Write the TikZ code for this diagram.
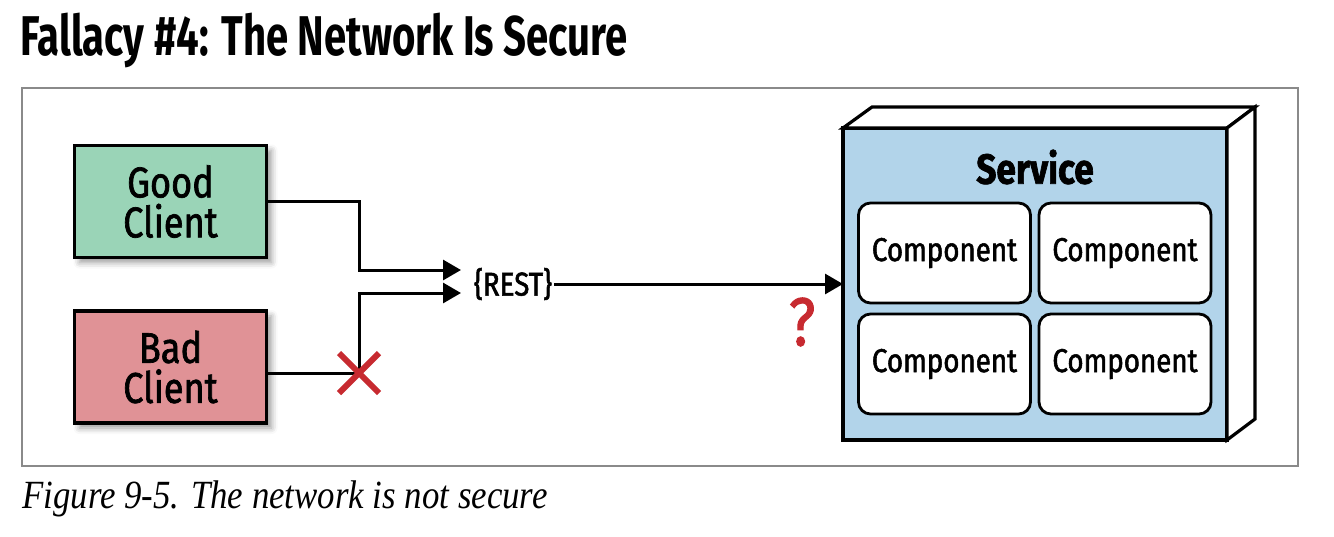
\documentclass[tikz,border=0pt]{standalone}
\usepackage{fontspec}
\newfontfamily\labelfont{Fira Sans}[FakeStretch=0.84, FakeBold=1.6]
\newfontfamily\headfont{Fira Sans}[FakeStretch=0.716]
\newfontfamily\capfont{Liberation Serif}[FakeStretch=0.87]
\usetikzlibrary{positioning,arrows.meta,shapes.misc,shadows.blur}

\definecolor{goodgreen}{HTML}{9AD4B7}
\definecolor{badred}{HTML}{E09296}
\definecolor{svcblue}{HTML}{B2D4EA}
\definecolor{warnred}{HTML}{C72A30}
\definecolor{framegray}{HTML}{8A8A8A}

\tikzset{
	client/.style={draw=black, line width=1.6pt, minimum width=96pt, minimum height=56pt, align=center,
		font=\labelfont\fontsize{21.5}{20}\selectfont,
		blur shadow={shadow xshift=2.5pt, shadow yshift=-2.5pt, shadow blur radius=3pt}},
	comp/.style={draw=black, fill=white, line width=1.4pt, rounded corners=6pt, minimum width=86pt, minimum height=50pt,
		font=\labelfont\fontsize{16.5}{18}\selectfont},
	conn/.style={draw=black, line width=1.5pt},
	flow/.style={-{Triangle[length=9pt,width=10pt]}},
	face/.style={draw=black, fill=white, line width=1.6pt, line join=miter},
}

\begin{document}
\begin{tikzpicture}[x=0.5pt,y=-0.5pt]
		\useasboundingbox (0,0) rectangle (1334,536);
		\draw[framegray, line width=0.75pt] (22,88) rectangle (1298,466);
		% title and caption
		\node[anchor=base west, inner sep=0pt, font=\headfont\bfseries\fontsize{28}{30}\selectfont] (title) at (20,55) {Fallacy \#4: The Network Is Secure};
		\node[anchor=base west, inner sep=0pt, font=\capfont\itshape\fontsize{20}{22}\selectfont] (caption) at (22,508) {Figure 9-5. The network is not secure};
		% clients
		\node[client, fill=goodgreen] (good) at (170.5,201.5) {Good\\Client};
		\node[client, fill=badred] (bad) at (170.5,367) {Bad\\Client};
		\node[font=\labelfont\fontsize{16.5}{18}\selectfont, inner sep=1pt] (rest) at (513,284) {\{REST\}};
		\coordinate (in1) at (461,270);
		\coordinate (in2) at (461,293);
		\coordinate (cutpt) at (359,373);
		% service
		\node[draw=black, fill=svcblue, line width=1.6pt, outer sep=0pt, minimum width=192pt, minimum height=156pt] (service) at (1035,284) {};
		\filldraw[face] (service.north west) -- ++(29,-21) -- ++(383,0) -- (service.north east) -- cycle;
		\filldraw[face] (service.north east) -- ++(28,-21) -- ++(0,312) -- (service.south east) -- cycle;
		\node[font=\labelfont\bfseries\fontsize{21}{24}\selectfont] (svclabel) at (1035,167) {Service};
		\node[comp] (comp1) at (944.5,253) {Component};
		\node[comp] (comp2) at (1125,253) {Component};
		\node[comp] (comp3) at (944.5,364) {Component};
		\node[comp] (comp4) at (1125,364) {Component};
		% connectors
		\draw[conn, flow] (good.east) -- (good.east -| cutpt) |- (in1);
		\draw[conn] (bad.east |- cutpt) -- (cutpt);
		\draw[conn, flow] (cutpt) |- (in2);
		\draw[conn, flow] (rest.east) -- (rest.east -| service.west);
		\node[cross out, draw=warnred, line width=3pt, minimum size=17pt, inner sep=0pt] (cut) at (cutpt) {};
		\node[text=warnred, font=\labelfont\fontsize{34}{34}\selectfont] (qmark) at (802,322) {?};
	\end{tikzpicture}
\end{document}
